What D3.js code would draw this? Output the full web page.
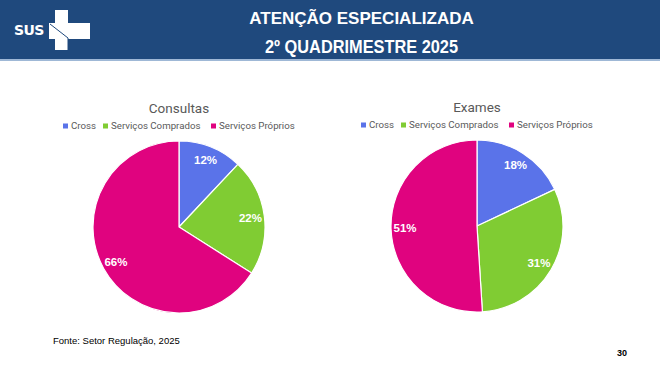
<!DOCTYPE html>
<html>
<head>
<meta charset="utf-8">
<script src="https://cdn.jsdelivr.net/npm/d3@7"></script>
<style>
  body { margin: 0; background: #fff; }
  svg { display: block; }
</style>
</head>
<body>
<svg></svg>
<script>
let width = 660, height = 366;

// data
let categories = ["Cross", "Serviços Comprados", "Serviços Próprios"];
let consultas = [12, 22, 66];
let exames = [18, 31, 51];
let chartTitles = ["Consultas", "Exames"];
let colors = ["#5a73e9", "#80cc33", "#e0037f"];

let svg = d3.select("svg")
    .attr("width", width)
    .attr("height", height)
    .attr("viewBox", "0 0 " + width + " " + height);

// header band
svg.append("rect").attr("x", 0).attr("y", 0).attr("width", width).attr("height", 60).attr("fill", "#1f497d");
svg.append("rect").attr("x", 0).attr("y", 59).attr("width", width).attr("height", 2).attr("fill", "#9fb8d6");

svg.append("text")
    .attr("x", 361.5).attr("y", 24)
    .attr("text-anchor", "middle")
    .style("font-family", "Liberation Sans, Arial, sans-serif")
    .style("font-weight", "bold")
    .style("font-size", "17px")
    .attr("fill", "#fff")
    .text("ATENÇÃO ESPECIALIZADA");

svg.append("text")
    .attr("x", 361.5).attr("y", 52.5)
    .attr("text-anchor", "middle")
    .attr("textLength", 193)
    .attr("lengthAdjust", "spacingAndGlyphs")
    .style("font-family", "Liberation Sans, Arial, sans-serif")
    .style("font-weight", "bold")
    .style("font-size", "17.5px")
    .attr("fill", "#fff")
    .text("2º QUADRIMESTRE 2025");

// SUS logo
let logo = svg.append("g");
logo.append("text")
    .attr("x", 14).attr("y", 35)
    .style("font-family", "DejaVu Sans, sans-serif")
    .style("font-weight", "bold")
    .style("font-size", "14px")
    .style("letter-spacing", "-0.6px")
    .attr("fill", "#fff")
    .text("SUS");
logo.append("rect").attr("x", 55).attr("y", 10).attr("width", 13).attr("height", 40).attr("fill", "#fff");
logo.append("rect").attr("x", 49).attr("y", 23).attr("width", 41).attr("height", 16).attr("fill", "#fff");
logo.append("path").attr("d", "M50,24 L68,38 L68,50").attr("stroke", "#1f497d").attr("stroke-width", 1).attr("fill", "none");

// pies
let pie = d3.pie().sort(null).value(d => d);
let radius = 86;
let arc = d3.arc().innerRadius(0).outerRadius(radius);
let labelArc = d3.arc().innerRadius(72).outerRadius(72);

function drawPie(values, title, cx, cy) {
  let g = svg.append("g").attr("transform", "translate(" + cx + "," + cy + ")");

  g.append("text")
      .attr("x", 0).attr("y", -114)
      .attr("text-anchor", "middle")
      .style("font-family", "Roboto, sans-serif")
      .style("font-size", "13.5px")
      .attr("fill", "#595959")
      .text(title);

  // legend
  let legend = g.append("g").attr("transform", "translate(-116," + (-98) + ")");
  let offsets = [0, 40, 148];
  categories.forEach((c, i) => {
    let item = legend.append("g").attr("transform", "translate(" + offsets[i] + ",0)");
    item.append("rect").attr("x", 0).attr("y", -5.5).attr("width", 5).attr("height", 5).attr("fill", colors[i]);
    item.append("text")
        .attr("x", 8).attr("y", 0)
        .style("font-family", "Roboto, sans-serif")
        .style("font-size", "9.7px")
        .attr("fill", "#595959")
        .text(c);
  });

  let arcs = pie(values);
  g.selectAll("path")
      .data(arcs)
      .enter()
      .append("path")
      .attr("d", arc)
      .attr("fill", (d, i) => colors[i])
      .attr("stroke", "#fff")
      .attr("stroke-width", 1.2);

  g.selectAll("text.lbl")
      .data(arcs)
      .enter()
      .append("text")
      .attr("class", "lbl")
      .attr("transform", d => "translate(" + labelArc.centroid(d) + ")")
      .attr("text-anchor", "middle")
      .attr("dy", "0.35em")
      .style("font-family", "Liberation Sans, Arial, sans-serif")
      .style("font-weight", "bold")
      .style("font-size", "11.5px")
      .attr("fill", "#fff")
      .text(d => d.data + "%");
}

drawPie(consultas, chartTitles[0], 179, 227);
drawPie(exames, chartTitles[1], 477, 226);

// footer
svg.append("text")
    .attr("x", 53).attr("y", 344)
    .style("font-family", "Liberation Sans, Arial, sans-serif")
    .style("font-size", "9.5px")
    .attr("fill", "#000")
    .text("Fonte: Setor Regulação, 2025");

svg.append("text")
    .attr("x", 627).attr("y", 356)
    .attr("text-anchor", "end")
    .style("font-family", "Liberation Sans, Arial, sans-serif")
    .style("font-weight", "bold")
    .style("font-size", "9px")
    .attr("fill", "#000")
    .text("30");
</script>
</body>
</html>
